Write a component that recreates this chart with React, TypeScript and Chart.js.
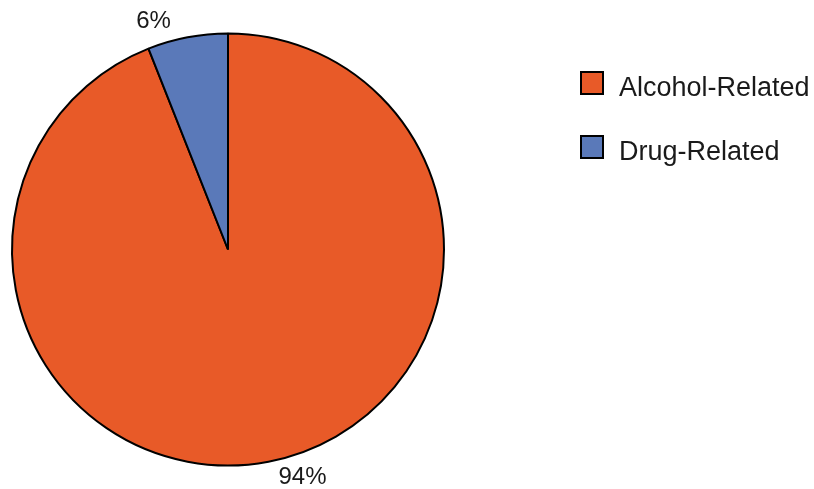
import React, { useEffect, useRef } from "react";
import { Chart, registerables } from "chart.js";

Chart.register(...registerables);

const categories = ["Alcohol-Related", "Drug-Related"];
const shares = [94, 6];
const sliceColors = ["#E85A28", "#5A79B9"];

const FONT = "'Liberation Sans', Arial, sans-serif";

// Percentage labels placed just outside each slice
const sliceLabels = {
  id: "sliceLabels",
  afterDatasetsDraw(chart: any) {
    const { ctx } = chart;
    const meta = chart.getDatasetMeta(0);
    const data = chart.data.datasets[0].data as number[];
    ctx.save();
    ctx.font = `24px ${FONT}`;
    ctx.fillStyle = "#1a1a1a";
    ctx.textAlign = "center";
    ctx.textBaseline = "middle";
    meta.data.forEach((arc: any, i: number) => {
      const p = arc.getProps(["x", "y", "startAngle", "endAngle", "outerRadius"], true);
      const mid = (p.startAngle + p.endAngle) / 2;
      const r = p.outerRadius + 16;
      const c = Math.cos(mid);
      const x = p.x + r * c + Math.sign(c) * 31;
      const y = p.y + r * Math.sin(mid);
      ctx.fillText(`${data[i]}%`, x, y);
    });
    ctx.restore();
  },
};

// Legend on the right: bordered swatch followed by the category name
const sideLegend = {
  id: "sideLegend",
  afterDraw(chart: any) {
    const { ctx } = chart;
    const labels = chart.data.labels as string[];
    const colors = chart.data.datasets[0].backgroundColor as string[];
    ctx.save();
    ctx.font = `27px ${FONT}`;
    ctx.textAlign = "left";
    ctx.textBaseline = "alphabetic";
    labels.forEach((label, i) => {
      const top = 72 + i * 64;
      ctx.fillStyle = colors[i];
      ctx.fillRect(581, top, 22, 22);
      ctx.lineWidth = 2;
      ctx.strokeStyle = "#000";
      ctx.strokeRect(581, top, 22, 22);
      ctx.fillStyle = "#1a1a1a";
      ctx.fillText(label, 619, top + 24);
    });
    ctx.restore();
  },
};

export default function App() {
  const canvasRef = useRef<HTMLCanvasElement | null>(null);

  useEffect(() => {
    document.body.style.margin = "0";
    const canvas = canvasRef.current;
    if (!canvas) return;
    const chart = new Chart(canvas, {
      type: "pie",
      data: {
        labels: categories,
        datasets: [
          {
            data: shares,
            backgroundColor: sliceColors,
            borderColor: "#000000",
            borderWidth: 2,
          },
        ],
      },
      options: {
        animation: false,
        responsive: false,
        devicePixelRatio: 1,
        layout: { padding: { left: 11, top: 32.5, right: 369, bottom: 22.5 } },
        plugins: {
          legend: { display: false },
          tooltip: { enabled: false },
        },
      },
      plugins: [sliceLabels, sideLegend],
    });
    return () => chart.destroy();
  }, []);

  return (
    <div style={{ position: "fixed", left: 0, top: 0, width: 814, height: 489, background: "#fff" }}>
      <canvas ref={canvasRef} width={814} height={489} style={{ width: 814, height: 489 }} />
    </div>
  );
}
